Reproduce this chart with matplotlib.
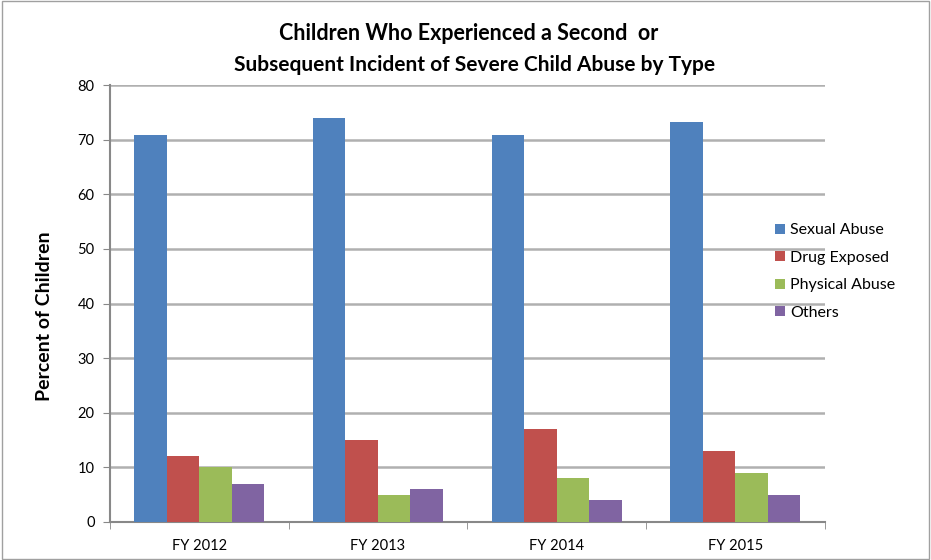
import numpy as np
import matplotlib
matplotlib.use("Agg")
import matplotlib.pyplot as plt
from matplotlib.patches import Rectangle

years = ["FY 2012", "FY 2013", "FY 2014", "FY 2015"]
series = ["Sexual Abuse", "Drug Exposed", "Physical Abuse", "Others"]
sexual_abuse = [70.8, 74.0, 70.8, 73.2]
drug_exposed = [12, 15, 17, 13]
physical_abuse = [10, 5, 8, 9]
others = [7, 6, 4, 5]
colors = ["#4F81BD", "#C0504D", "#9BBB59", "#8064A2"]

plt.rcParams["font.family"] = ["Lato", "DejaVu Sans"]

fig = plt.figure(figsize=(9.31, 5.60), dpi=100)
ax = fig.add_axes([0.118, 0.068, 0.768, 0.78])

x = np.arange(len(years))
w = 1 / 5.5
values = [sexual_abuse, drug_exposed, physical_abuse, others]
for i, (name, vals) in enumerate(zip(series, values)):
    ax.bar(x + (i - 1.5) * w, vals, w, color=colors[i], label=name, zorder=3)

ax.set_xlim(-0.5, len(years) - 0.5)
ax.set_ylim(0, 80)
ax.set_yticks(range(0, 81, 10))
ax.set_xticks(x)
ax.set_xticklabels(years, fontsize=10.5)
ax.tick_params(axis="x", length=0, pad=12)
ax.tick_params(axis="y", labelsize=10.5, color="#888888", length=5, pad=6)
# category boundary tick marks
ax.set_xticks(np.arange(-0.5, len(years)), minor=True)
ax.tick_params(axis="x", which="minor", length=5, color="#888888")

ax.grid(axis="y", color="#b0b0b0", linewidth=1.8, zorder=0)
for side in ["top", "right"]:
    ax.spines[side].set_visible(False)
ax.spines["left"].set_color("#888888")
ax.spines["bottom"].set_color("#888888")
ax.spines["left"].set_linewidth(1.5)
ax.spines["bottom"].set_linewidth(1.5)

ax.set_ylabel("Percent of Children", fontsize=14, fontweight="bold")
ax.yaxis.set_label_coords(-0.08, 0.472)

fig.text(0.503, 0.94, "Children Who Experienced a Second  or", ha="center",
         va="center", fontsize=15.5, fontweight="bold")
fig.text(0.51, 0.884, "Subsequent Incident of Severe Child Abuse by Type", ha="center",
         va="center", fontsize=15, fontweight="bold")

fig.legend(loc="center left", bbox_to_anchor=(0.826, 0.515), frameon=False,
           fontsize=11.5, handlelength=0.6, handleheight=0.6, handletextpad=0.3,
           labelspacing=0.85, borderaxespad=0)

fig.patches.append(Rectangle((0.002, 0.002), 0.996, 0.996, transform=fig.transFigure,
                             fill=False, edgecolor="#a0a0a0", linewidth=1))

fig.savefig("out.png", dpi=100)
